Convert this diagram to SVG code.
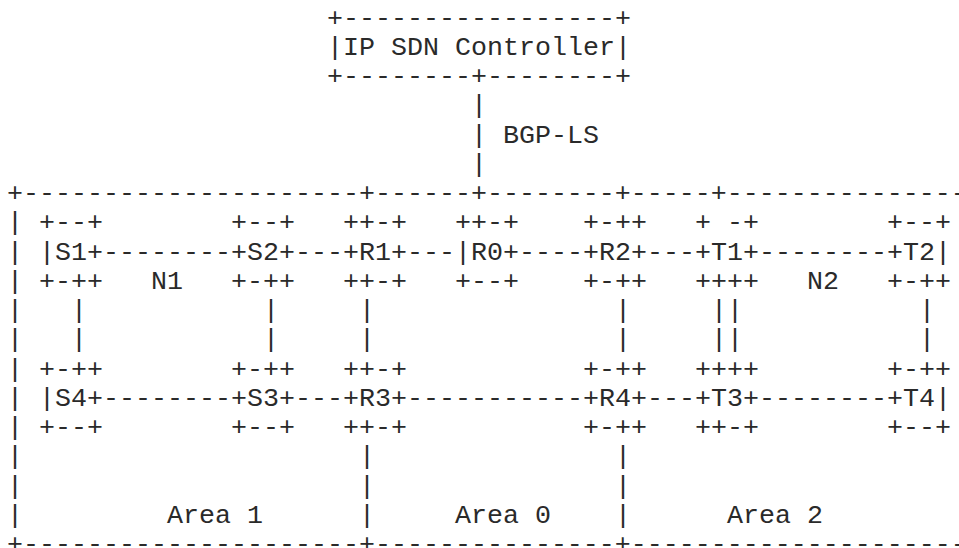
<svg xmlns="http://www.w3.org/2000/svg" width="959" height="548" viewBox="0 0 959 548">
  <style>
    text { font-family: "Liberation Mono", "Courier New", monospace; font-size: 26.667px; fill: #2a2a2a; }
  </style>
  <rect width="959" height="548" fill="#fff"/>

  <!-- Character grid: column c starts at x = 7 + 16c, row r baseline at y = 25.5 + 29.25r -->

  <g id="controller">
    <text x="327" y="25.5">+-----------------+</text>
    <text x="327" y="54.75">|IP SDN Controller|</text>
    <text x="327" y="84">+--------+--------+</text>
  </g>

  <g id="domain-frame">
    <!-- the domain box runs on past the right edge -->
    <text x="7" y="201">+---------------------+------+--------+-----+---------------</text>
    <text x="7" y="230.25">|</text>
    <text x="7" y="259.5">|</text>
    <text x="7" y="288.75">|</text>
    <text x="7" y="318">|</text>
    <text x="7" y="347.25">|</text>
    <text x="7" y="376.5">|</text>
    <text x="7" y="405.75">|</text>
    <text x="7" y="435">|</text>
    <text x="7" y="464.25">|</text>
    <text x="7" y="493.5">|</text>
    <text x="7" y="522.75">|</text>
    <text x="7" y="552">+---------------------+---------------+---------------------</text>
    <!-- area borders -->
    <text x="359" y="464.25">|</text>
    <text x="359" y="493.5">|</text>
    <text x="359" y="522.75">|</text>
    <text x="615" y="464.25">|</text>
    <text x="615" y="493.5">|</text>
    <text x="615" y="522.75">|</text>
    <text x="167" y="522.75">Area 1</text>
    <text x="455" y="522.75">Area 0</text>
    <text x="727" y="522.75">Area 2</text>
    <text x="151" y="288.75">N1</text>
    <text x="807" y="288.75">N2</text>
  </g>

  <g id="S1">
    <text x="39" y="230.25">+--+</text>
    <text x="39" y="259.5">|S1+</text>
    <text x="39" y="288.75">+-++</text>
  </g>
  <g id="S2">
    <text x="231" y="230.25">+--+</text>
    <text x="231" y="259.5">+S2+</text>
    <text x="231" y="288.75">+-++</text>
  </g>
  <g id="R1">
    <text x="343" y="230.25">++-+</text>
    <text x="343" y="259.5">+R1+</text>
    <text x="343" y="288.75">++-+</text>
  </g>
  <g id="R0">
    <text x="455" y="230.25">++-+</text>
    <text x="455" y="259.5">|R0+</text>
    <text x="455" y="288.75">+--+</text>
  </g>
  <g id="R2">
    <text x="583" y="230.25">+-++</text>
    <text x="583" y="259.5">+R2+</text>
    <text x="583" y="288.75">+-++</text>
  </g>
  <g id="T1">
    <text x="695" y="230.25">+</text>
    <text x="727" y="230.25">-+</text>
    <text x="695" y="259.5">+T1+</text>
    <text x="695" y="288.75">++++</text>
  </g>
  <g id="T2">
    <text x="887" y="230.25">+--+</text>
    <text x="887" y="259.5">+T2|</text>
    <text x="887" y="288.75">+-++</text>
  </g>
  <g id="S4">
    <text x="39" y="376.5">+-++</text>
    <text x="39" y="405.75">|S4+</text>
    <text x="39" y="435">+--+</text>
  </g>
  <g id="S3">
    <text x="231" y="376.5">+-++</text>
    <text x="231" y="405.75">+S3+</text>
    <text x="231" y="435">+--+</text>
  </g>
  <g id="R3">
    <text x="343" y="376.5">++-+</text>
    <text x="343" y="405.75">+R3+</text>
    <text x="343" y="435">++-+</text>
  </g>
  <g id="R4">
    <text x="583" y="376.5">+-++</text>
    <text x="583" y="405.75">+R4+</text>
    <text x="583" y="435">+-++</text>
  </g>
  <g id="T3">
    <text x="695" y="376.5">++++</text>
    <text x="695" y="405.75">+T3+</text>
    <text x="695" y="435">++-+</text>
  </g>
  <g id="T4">
    <text x="887" y="376.5">+-++</text>
    <text x="887" y="405.75">+T4|</text>
    <text x="887" y="435">+--+</text>
  </g>

  <g id="connectors">
    <!-- BGP-LS session to the controller -->
    <text x="471" y="113.25">|</text>
    <text x="471" y="142.5">|</text>
    <text x="471" y="171.75">|</text>
    <text x="503" y="142.5">BGP-LS</text>
    <!-- upper row links -->
    <text x="103" y="259.5">--------</text>
    <text x="295" y="259.5">---</text>
    <text x="407" y="259.5">---</text>
    <text x="519" y="259.5">----</text>
    <text x="647" y="259.5">---</text>
    <text x="759" y="259.5">--------</text>
    <!-- lower row links -->
    <text x="103" y="405.75">--------</text>
    <text x="295" y="405.75">---</text>
    <text x="407" y="405.75">-----------</text>
    <text x="647" y="405.75">---</text>
    <text x="759" y="405.75">--------</text>
    <!-- vertical links -->
    <text x="71" y="318">|</text><text x="71" y="347.25">|</text>
    <text x="263" y="318">|</text><text x="263" y="347.25">|</text>
    <text x="359" y="318">|</text><text x="359" y="347.25">|</text>
    <text x="615" y="318">|</text><text x="615" y="347.25">|</text>
    <text x="711" y="318">|</text><text x="711" y="347.25">|</text>
    <text x="727" y="318">|</text><text x="727" y="347.25">|</text>
    <text x="919" y="318">|</text><text x="919" y="347.25">|</text>
  </g>
</svg>
